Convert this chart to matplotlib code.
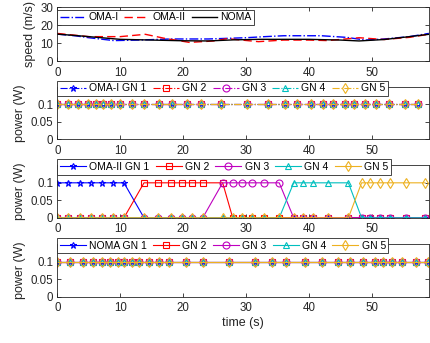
import matplotlib.pyplot as plt

plt.rcParams['font.family'] = ['Liberation Sans', 'DejaVu Sans']
plt.rcParams['font.size'] = 8

# speed curves (m/s)
speed_t_noma = [0, 3, 7, 10, 15, 20, 24, 28, 32, 36, 40, 45, 48, 52, 56, 59.1]
speed_noma = [15.0, 14.2, 13.0, 12.1, 11.7, 11.3, 11.2, 11.8, 12.1, 12.1, 12.1, 11.7, 11.2, 12.0, 13.6, 14.9]
speed_t_oma1 = [0, 3, 5, 9, 13, 18, 24, 30, 33, 36, 40, 42, 46, 49, 52, 56, 59.1]
speed_oma1 = [15.0, 14.0, 13.0, 11.4, 11.7, 12.3, 12.3, 13.0, 13.6, 14.1, 14.1, 14.1, 13.2, 11.7, 12.3, 13.6, 15.4]
speed_t_oma2 = [0, 5, 10, 14, 17, 21, 25, 27, 29, 32, 36, 40, 43, 48, 52, 56, 59.1]
speed_oma2 = [15.4, 13.6, 13.6, 14.9, 12.7, 10.4, 11.2, 12.5, 11.8, 10.8, 11.7, 11.7, 11.4, 13.0, 12.0, 13.2, 14.9]

# power samples (W)
t_oma1 = [0, 1.75, 3.34, 4.93, 6.15, 7.31, 8.54, 9.97, 11.83, 13.79, 16.2, 18.3, 20.6, 22.9, 26.0,
          30.1, 33.5, 36.2, 38.2, 40.3, 42.2, 43.9, 45.7, 47.2, 48.9, 50.7, 52.8, 55.3, 57.4]
p_oma1 = [0.1] * len(t_oma1)

t_oma2 = [0, 1.75, 3.62, 5.32, 7.07, 8.82, 10.6, 13.79, 16.06, 18.04, 19.79, 21.38, 23.13, 26.3, 27.9,
          29.3, 30.9, 32.8, 35.3, 37.6, 39.1, 40.7, 43.0, 46.3, 48.4, 49.7, 51.4, 52.9, 55.5, 58.5]
p_oma2_gn1 = [0.1] * 7 + [0] * 23
p_oma2_gn2 = [0] * 7 + [0.1] * 7 + [0] * 16
p_oma2_gn3 = [0] * 13 + [0.1] * 6 + [0] * 11
p_oma2_gn4 = [0] * 19 + [0.1] * 5 + [0] * 6
p_oma2_gn5 = [0] * 24 + [0.1] * 6

t_noma = [0, 2.02, 4.04, 5.63, 7.07, 8.38, 9.7, 10.6, 11.8, 13.0, 14.6, 16.2, 17.8, 20.4, 23.2,
          27.3, 31.4, 34.2, 36.3, 39.4, 42.1, 44.6, 46.6, 48.6, 50.6, 51.8, 53.3, 54.9, 57.0, 59.0]
p_noma = [0.1] * len(t_noma)

gn_colors = ['b', 'r', 'm', 'c', (0.929, 0.694, 0.125)]
gn_markers = ['*', 's', 'o', '^', 'd']
axcol = (0.15, 0.15, 0.15)


def style_axes(ax):
    ax.set_xlim(0, 59.1)
    ax.set_xticks([0, 10, 20, 30, 40, 50])
    ax.tick_params(direction='in', length=3, width=0.6, top=True, right=True,
                   colors=axcol, labelsize=8.3)
    ax.tick_params(axis='x', pad=4)
    ax.tick_params(axis='y', pad=3)
    for s in ax.spines.values():
        s.set_color(axcol)
        s.set_linewidth(0.6)


def make_legend(ax, y, ncol, hlen, colsp):
    leg = ax.legend(loc='center left', bbox_to_anchor=(0, y), ncol=ncol, frameon=True,
                    fancybox=False, framealpha=1, edgecolor=axcol, fontsize=7.5,
                    handlelength=hlen, handletextpad=0.3, columnspacing=colsp,
                    borderpad=0.25, borderaxespad=0)
    leg.get_frame().set_linewidth(0.6)
    return leg


fig = plt.figure(figsize=(4.31, 3.43), dpi=100)
ax1 = fig.add_axes([0.133, 0.822, 0.862, 0.157])
ax2 = fig.add_axes([0.133, 0.594, 0.862, 0.153])
ax3 = fig.add_axes([0.133, 0.365, 0.862, 0.153])
ax4 = fig.add_axes([0.133, 0.135, 0.862, 0.153])

# speed
ax1.plot(speed_t_oma1, speed_oma1, color='b', ls='-.', lw=1.0, label='OMA-I')
ax1.plot(speed_t_oma2, speed_oma2, color='r', ls=(0, (6, 3)), lw=1.0, label='OMA-II')
ax1.plot(speed_t_noma, speed_noma, color='k', ls='-', lw=1.0, label='NOMA')
ax1.set_ylim(0, 30)
ax1.set_yticks([0, 10, 20, 30])
ax1.set_ylabel('speed (m/s)', color=axcol, fontsize=9, labelpad=3)
style_axes(ax1)
make_legend(ax1, 0.81, 3, 2.4, 0.6)

# OMA-I power
for i in range(5):
    lab = 'OMA-I GN 1' if i == 0 else 'GN %d' % (i + 1)
    ax2.plot(t_oma1, p_oma1, color=gn_colors[i], ls='-.', lw=0.8, marker=gn_markers[i],
             ms=5, mfc='none', mew=0.8, label=lab)

# OMA-II power
oma2_series = [p_oma2_gn1, p_oma2_gn2, p_oma2_gn3, p_oma2_gn4, p_oma2_gn5]
for i in range(5):
    lab = 'OMA-II GN 1' if i == 0 else 'GN %d' % (i + 1)
    ax3.plot(t_oma2, oma2_series[i], color=gn_colors[i], ls='-', lw=0.8, marker=gn_markers[i],
             ms=5, mfc='none', mew=0.8, label=lab)

# NOMA power
for i in range(5):
    lab = 'NOMA GN 1' if i == 0 else 'GN %d' % (i + 1)
    ax4.plot(t_noma, p_noma, color=gn_colors[i], ls='-', lw=0.8, marker=gn_markers[i],
             ms=5, mfc='none', mew=0.8, label=lab)

for ax in [ax2, ax3, ax4]:
    ax.set_ylim(0, 0.15)
    ax.set_yticks([0, 0.05, 0.1])
    ax.set_yticklabels(['0', '0.05', '0.1'])
    ax.set_ylabel('power (W)', color=axcol, fontsize=9, labelpad=3)
    style_axes(ax)
    make_legend(ax, 0.97, 5, 2.5, 0.6)

ax4.set_xlabel('time (s)', color=axcol, fontsize=9, labelpad=2)

fig.savefig('out.png', dpi=100)
